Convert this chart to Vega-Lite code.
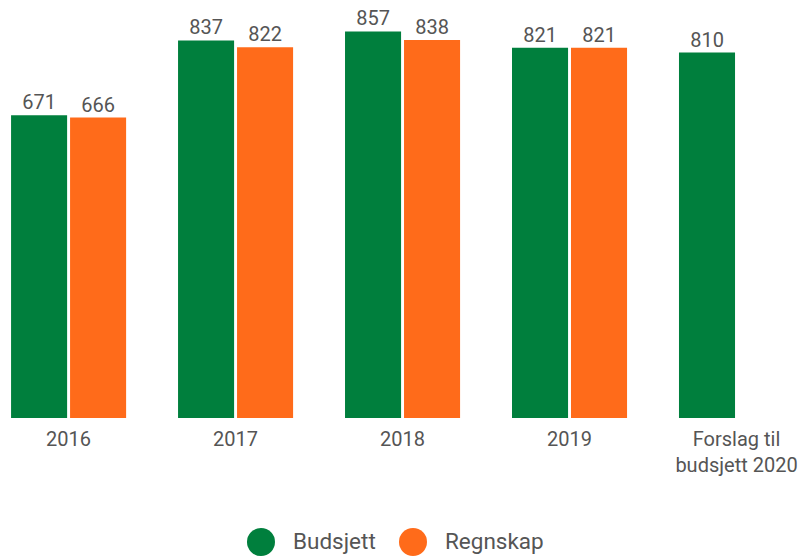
{
  "$schema": "https://vega.github.io/schema/vega-lite/v6.json",
  "width": 799,
  "height": 406,
  "autosize": {"type": "none"},
  "padding": {"top": 12, "left": 0, "right": 0, "bottom": 139},
  "background": "white",
  "config": {"view": {"stroke": null}, "font": "Roboto"},
  "data": {
    "values": [
      {"year": "2016", "type": "Budsjett", "value": 671},
      {"year": "2016", "type": "Regnskap", "value": 666},
      {"year": "2017", "type": "Budsjett", "value": 837},
      {"year": "2017", "type": "Regnskap", "value": 822},
      {"year": "2018", "type": "Budsjett", "value": 857},
      {"year": "2018", "type": "Regnskap", "value": 838},
      {"year": "2019", "type": "Budsjett", "value": 821},
      {"year": "2019", "type": "Regnskap", "value": 821},
      {"year": "Forslag til budsjett 2020", "type": "Budsjett", "value": 810}
    ]
  },
  "encoding": {
    "x": {
      "field": "year",
      "type": "nominal",
      "sort": null,
      "scale": {"paddingInner": 0.311, "paddingOuter": 0.048, "align": 0.69},
      "axis": {
        "title": null,
        "domain": false,
        "ticks": false,
        "labelAngle": 0,
        "labelFontSize": 20,
        "labelColor": "#555555",
        "labelPadding": 11,
        "labelLineHeight": 26,
        "labelExpr": "datum.value == 'Forslag til budsjett 2020' ? ['Forslag til', 'budsjett 2020'] : datum.label"
      }
    },
    "xOffset": {"field": "type", "type": "nominal", "scale": {"paddingInner": 0.05}},
    "y": {
      "field": "value",
      "type": "quantitative",
      "scale": {"domain": [0, 900], "nice": false},
      "axis": null
    }
  },
  "layer": [
    {
      "mark": {"type": "bar"},
      "encoding": {
        "color": {
          "field": "type",
          "type": "nominal",
          "scale": {"domain": ["Budsjett", "Regnskap"], "range": ["#007F3D", "#FF6B1A"]},
          "legend": {
            "title": null,
            "orient": "none",
            "direction": "horizontal",
            "legendX": 247,
            "legendY": 516,
            "symbolType": "circle",
            "symbolSize": 784,
            "symbolStrokeWidth": 0,
            "symbolOpacity": 1,
            "labelFontSize": 22.5,
            "labelColor": "#555555",
            "labelOffset": 18,
            "columnPadding": 23
          }
        }
      }
    },
    {
      "mark": {"type": "text", "baseline": "alphabetic", "dy": -6, "fontSize": 20, "color": "#555555"},
      "encoding": {"text": {"field": "value", "type": "quantitative"}}
    }
  ]
}
